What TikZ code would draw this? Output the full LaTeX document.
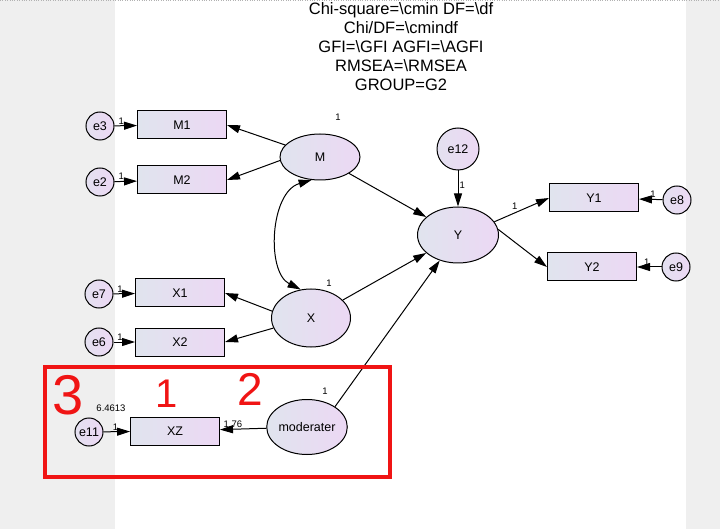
\documentclass[tikz,border=0pt]{standalone}
\usepackage{fontspec}
\setmainfont{Liberation Sans}
\usetikzlibrary{shapes.geometric,arrows.meta}

\definecolor{shadeL}{RGB}{224,228,238}
\definecolor{shadeR}{RGB}{236,216,244}
\definecolor{pageGray}{RGB}{239,239,239}
\definecolor{markRed}{RGB}{240,20,20}

\tikzset{
  latent/.style={draw, ellipse, line width=1pt, inner sep=0pt, left color=shadeL, right color=shadeR, font=\fontsize{12.5}{14}\selectfont},
  obs/.style={draw, rectangle, line width=1pt, minimum width=89, minimum height=28, inner sep=0pt, left color=shadeL, right color=shadeR, font=\fontsize{12.5}{14}\selectfont},
  err/.style={draw, circle, line width=1pt, minimum size=28, inner sep=0pt, left color=shadeL!70!shadeR, right color=shadeR, font=\fontsize{12.5}{14}\selectfont},
  arr/.style={line width=1pt, -{Triangle[length=13pt,width=8pt]}},
  dbl/.style={line width=1pt, {Triangle[length=13pt,width=8pt]}-{Triangle[length=13pt,width=8pt]}},
  lbl/.style={font=\fontsize{9.5}{10}\selectfont, inner sep=1pt},
  scrawl/.style={text=markRed, inner sep=0pt}
}

\begin{document}
\begin{tikzpicture}[x=1pt,y=1pt,yscale=-1,xscale=1]
	\useasboundingbox (0,0) rectangle (720,529);
	% page
	\fill[pageGray] (0,0) rectangle (720,529);
	\fill[white] (115,0) rectangle (686,529);
	\draw[gray!60, dotted] (0,0.6) -- (720,0.6);
	
	% Text Node
	\node[align=center, font=\fontsize{16.5}{19}\selectfont] (title) at (401,47) {Chi-square=\textbackslash cmin DF=\textbackslash df\\Chi/DF=\textbackslash cmindf\\GFI=\textbackslash GFI AGFI=\textbackslash AGFI\\RMSEA=\textbackslash RMSEA\\GROUP=G2};
	
	% M block
	\node[err] (e3) at (100,126) {e3};
	\node[obs] (M1) at (182,125) {M1};
	\node[err] (e2) at (100,182) {e2};
	\node[obs] (M2) at (182,180) {M2};
	\node[latent, minimum width=80, minimum height=46] (M) at (320,157) {M};
	\node[lbl] (vM) at (338,117) {1};
	
	% X block
	\node[err] (e7) at (99,294) {e7};
	\node[obs] (X1) at (180,293) {X1};
	\node[err] (e6) at (99,342) {e6};
	\node[obs] (X2) at (180,342) {X2};
	\node[latent, minimum width=79, minimum height=58] (X) at (311,318) {X};
	\node[lbl] (vX) at (329,283) {1};
	
	% Y block
	\node[err, minimum size=42] (e12) at (458,149) {e12};
	\node[latent, minimum width=81, minimum height=56] (Y) at (458,235) {Y};
	\node[obs] (Y1) at (594,198) {Y1};
	\node[obs] (Y2) at (592,267) {Y2};
	\node[err] (e8) at (677,200) {e8};
	\node[err] (e9) at (676,267) {e9};
	
	% moderator block
	\node[err] (e11) at (89,432) {e11};
	\node[obs] (XZ) at (175,431) {XZ};
	\node[latent, minimum width=80, minimum height=55] (mod) at (307,427) {moderater};
	\node[lbl] (vmod) at (325,391) {1};
	\node[lbl] (ve11) at (111,408) {6.4613};
	
	%Straight Lines
	\draw[arr] (e3) -- node[lbl, above, pos=0.3] {1} (M1);
	\draw[arr] (e2) -- node[lbl, above, pos=0.3] {1} (M2);
	\draw[arr] (M.161) -- (M1.east);
	\draw[arr] (M.185) -- (M2.east);
	\draw[arr] (e7) -- node[lbl, above, pos=0.3] {1} (X1);
	\draw[arr] (e6) -- node[lbl, above, pos=0.3] {1} (X2);
	\draw[arr] (X.170) -- (X1.east);
	\draw[arr] (X.195) -- (X2.east);
	\draw[arr] (M) -- (Y);
	\draw[arr] (X) -- (Y);
	\draw[arr] (mod.36) -- (Y);
	\draw[arr] (e12) -- node[lbl, right, pos=0.4] {1} (Y);
	\draw[arr] (Y.20) -- node[lbl, above left, pos=0.45] {1} (Y1.west);
	\draw[arr] (Y.8) -- (Y2.west);
	\draw[arr] (e8) -- node[lbl, above, pos=0.4] {1} (Y1);
	\draw[arr] (e9) -- node[lbl, above, pos=0.6] {1} (Y2);
	\draw[arr] (e11) -- node[lbl, above, pos=0.45] {1} (XZ);
	\draw[arr] (mod) -- node[lbl, above, pos=0.72] {1.76} (XZ);
	%Curve Lines
	\draw[dbl] (M.250) .. controls (270,192) and (266,272) .. (X.110);
	
	% red marks
	\draw[markRed, line width=3.5pt] (45,367) rectangle (390,477);
	\node[scrawl, font=\fontsize{56}{56}\selectfont] (mark3) at (68,395) {3};
	\node[scrawl, font=\fontsize{40}{40}\selectfont] (mark1) at (167,394) {1};
	\node[scrawl, font=\fontsize{46}{46}\selectfont] (mark2) at (250,389) {2};
\end{tikzpicture}
\end{document}
